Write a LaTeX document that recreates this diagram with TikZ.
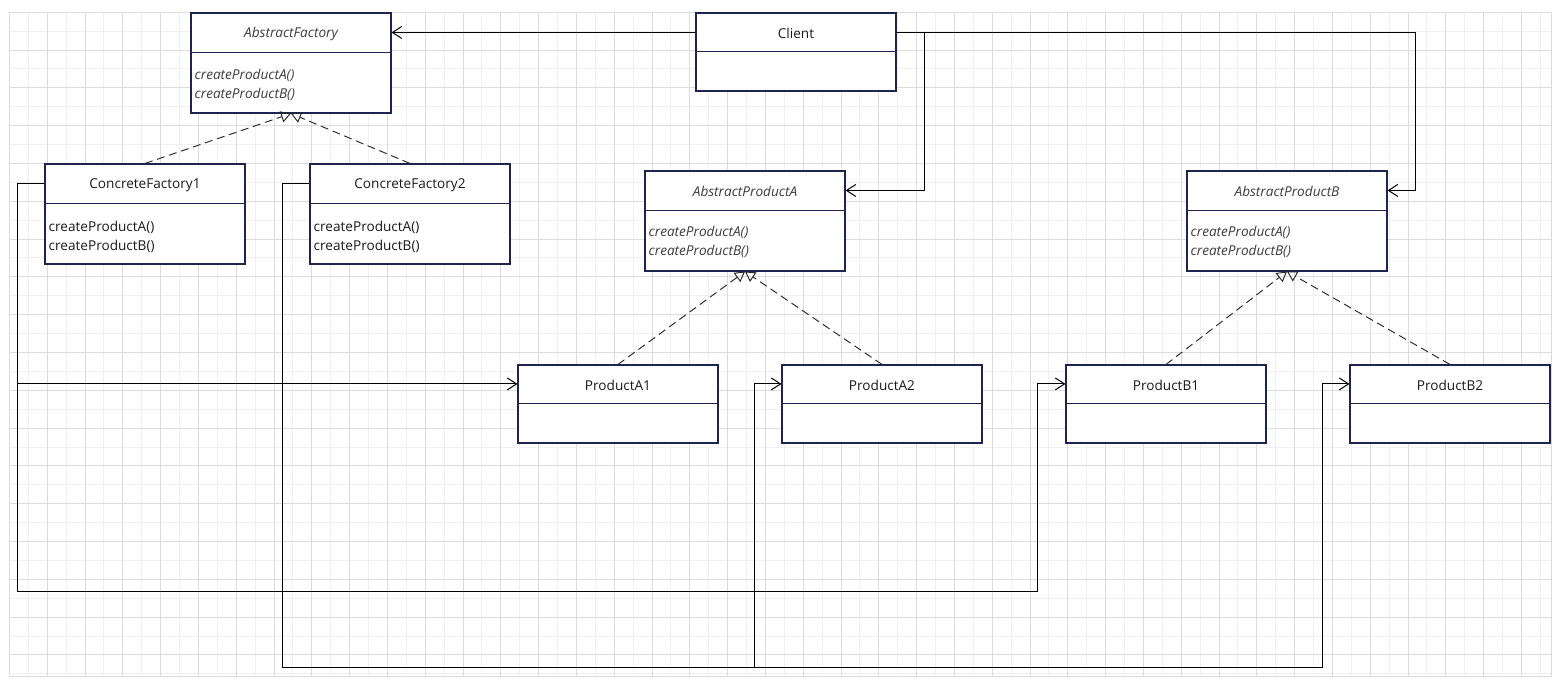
\documentclass[tikz,border=0pt]{standalone}
\usepackage{fontspec}
\setmainfont{Open Sans}
\usetikzlibrary{arrows.meta}
\definecolor{boxc}{HTML}{1F2350}
\definecolor{gmin}{HTML}{F0F0F0}
\definecolor{gmaj}{HTML}{DCDCDC}
\definecolor{txt}{HTML}{1A1A1A}
\newcommand\fsz{\fontsize{10.2}{12}\selectfont}
\tikzset{
  cls/.style={draw=boxc, line width=0.8pt, fill=white, minimum width=150pt, inner sep=0pt},
  divline/.style={draw=boxc, line width=0.8pt},
  ttl/.style={inner sep=0pt, text=txt, font=\fsz},
  ittl/.style={inner sep=0pt, text=txt!85, font=\fsz\itshape},
  opr/.style={inner sep=0pt, anchor=west, text=txt, font=\fsz},
  iopr/.style={inner sep=0pt, anchor=west, text=txt!85, font=\fsz\itshape},
  assoc/.style={draw=black, line width=0.75pt, -{Straight Barb[length=7pt,width=9pt]}},
  realize/.style={draw=black!85, line width=0.7pt, dash pattern=on 6pt off 3.5pt, -{Triangle[open, length=7.5pt, width=8.5pt, line width=0.7pt]}},
}
\begin{document}
\begin{tikzpicture}[x=0.75pt,y=-0.75pt]
\fill[white] (0,0) rectangle (1561,684);
% grid
\foreach \i in {1,3,...,81}{\draw[gmin, line width=0.75pt] ({9.4+18.9*\i},12.3) -- ({9.4+18.9*\i},676);}
\foreach \j in {1,3,...,35}{\draw[gmin, line width=0.75pt] (9.4,{12.3+18.9*\j}) -- (1551.3,{12.3+18.9*\j});}
\foreach \i in {0,2,...,80}{\draw[gmaj, line width=0.75pt] ({9.4+18.9*\i},12.3) -- ({9.4+18.9*\i},676);}
\foreach \j in {0,2,...,34}{\draw[gmaj, line width=0.75pt] (9.4,{12.3+18.9*\j}) -- (1551.3,{12.3+18.9*\j});}
\draw[gmaj, line width=0.75pt] (9.4,12.3) rectangle (1551.3,676);

% ---------- classes with operations ----------
% AbstractFactory
\node[cls, minimum height=75pt] (af) at (291,63) {};
\draw[divline] ([yshift=-30pt]af.north west) -- ([yshift=-30pt]af.north east);
\node[ittl] (aft) at ([yshift=-16pt]af.north) {AbstractFactory};
\node[iopr] (afa) at ([xshift=3pt,yshift=-47.25pt]af.north west) {createProductA()};
\node[iopr] (afb) at ([xshift=3pt,yshift=-61.5pt]af.north west) {createProductB()};

% ConcreteFactory1
\node[cls, minimum height=75pt] (cf1) at (145,214) {};
\draw[divline] ([yshift=-30pt]cf1.north west) -- ([yshift=-30pt]cf1.north east);
\node[ttl] (cf1t) at ([yshift=-16pt]cf1.north) {ConcreteFactory1};
\node[opr] (cf1a) at ([xshift=3pt,yshift=-48pt]cf1.north west) {createProductA()};
\node[opr] (cf1b) at ([xshift=3pt,yshift=-62.25pt]cf1.north west) {createProductB()};

% ConcreteFactory2
\node[cls, minimum height=75pt] (cf2) at (410,214) {};
\draw[divline] ([yshift=-30pt]cf2.north west) -- ([yshift=-30pt]cf2.north east);
\node[ttl] (cf2t) at ([yshift=-16pt]cf2.north) {ConcreteFactory2};
\node[opr] (cf2a) at ([xshift=3pt,yshift=-48pt]cf2.north west) {createProductA()};
\node[opr] (cf2b) at ([xshift=3pt,yshift=-62.25pt]cf2.north west) {createProductB()};

% AbstractProductA
\node[cls, minimum height=75pt] (apa) at (745,221) {};
\draw[divline] ([yshift=-30pt]apa.north west) -- ([yshift=-30pt]apa.north east);
\node[ittl] (apat) at ([yshift=-16pt]apa.north) {AbstractProductA};
\node[iopr] (apaa) at ([xshift=3pt,yshift=-46.5pt]apa.north west) {createProductA()};
\node[iopr] (apab) at ([xshift=3pt,yshift=-60.75pt]apa.north west) {createProductB()};

% AbstractProductB
\node[cls, minimum height=75pt] (apb) at (1287,221) {};
\draw[divline] ([yshift=-30pt]apb.north west) -- ([yshift=-30pt]apb.north east);
\node[ittl] (apbt) at ([yshift=-16pt]apb.north) {AbstractProductB};
\node[iopr] (apba) at ([xshift=3pt,yshift=-46.5pt]apb.north west) {createProductA()};
\node[iopr] (apbb) at ([xshift=3pt,yshift=-60.75pt]apb.north west) {createProductB()};

% ---------- simple classes ----------
\node[cls, minimum height=58.5pt] (cl) at (796,52) {};
\draw[divline] ([yshift=-29.25pt]cl.north west) -- ([yshift=-29.25pt]cl.north east);
\node[ttl] (clt) at ([yshift=-15.5pt]cl.north) {Client};

\node[cls, minimum height=58.5pt] (pa1) at (618,404) {};
\draw[divline] ([yshift=-29.25pt]pa1.north west) -- ([yshift=-29.25pt]pa1.north east);
\node[ttl] (pa1t) at ([yshift=-15.5pt]pa1.north) {ProductA1};

\node[cls, minimum height=58.5pt] (pa2) at (882,404) {};
\draw[divline] ([yshift=-29.25pt]pa2.north west) -- ([yshift=-29.25pt]pa2.north east);
\node[ttl] (pa2t) at ([yshift=-15.5pt]pa2.north) {ProductA2};

\node[cls, minimum height=58.5pt] (pb1) at (1166,404) {};
\draw[divline] ([yshift=-29.25pt]pb1.north west) -- ([yshift=-29.25pt]pb1.north east);
\node[ttl] (pb1t) at ([yshift=-15.5pt]pb1.north) {ProductB1};

\node[cls, minimum height=58.5pt] (pb2) at (1450,404) {};
\draw[divline] ([yshift=-29.25pt]pb2.north west) -- ([yshift=-29.25pt]pb2.north east);
\node[ttl] (pb2t) at ([yshift=-15.5pt]pb2.north) {ProductB2};

% ---------- attachment points ----------
\coordinate (clL) at ([yshift=-15pt]cl.north west);
\coordinate (clR) at ([yshift=-15pt]cl.north east);
\coordinate (afR) at ([yshift=-15pt]af.north east);
\coordinate (apaR) at ([yshift=-15pt]apa.north east);
\coordinate (apbR) at ([yshift=-15pt]apb.north east);
\coordinate (cf1L) at ([yshift=-15pt]cf1.north west);
\coordinate (cf2L) at ([yshift=-15pt]cf2.north west);
\coordinate (pa1L) at ([yshift=-14.6pt]pa1.north west);
\coordinate (pa2L) at ([yshift=-14.6pt]pa2.north west);
\coordinate (pb1L) at ([yshift=-14.6pt]pb1.north west);
\coordinate (pb2L) at ([yshift=-14.6pt]pb2.north west);
% bend points
\coordinate (kA) at (924,33);
\coordinate (kB) at (1415,33);
\coordinate (k1) at (17,591);
\coordinate (k2) at (1037,591);
\coordinate (k3) at (282,667);
\coordinate (k4) at (754,667);
\coordinate (k5) at (1322,667);

% ---------- associations ----------
\draw[assoc] (clL) -- (afR);
\draw[assoc] (clR) -- (clR -| kA) |- (apaR);
\draw[assoc] (clR) -- (clR -| kB) |- (apbR);
\draw[assoc] (cf1L) -| (k1) -- (k2) |- (pb1L);
\draw[assoc] (cf1L -| k1) |- (pa1L);
\draw[assoc] (cf2L) -| (k3) -- (k5) |- (pb2L);
\draw[assoc] (k4) |- (pa2L);

% ---------- realizations ----------
\draw[realize] (cf1.north) -- (af.south);
\draw[realize] (cf2.north) -- (af.south);
\draw[realize] (pa1.north) -- (apa.south);
\draw[realize] (pa2.north) -- (apa.south);
\draw[realize] (pb1.north) -- (apb.south);
\draw[realize] (pb2.north) -- (apb.south);
\end{tikzpicture}
\end{document}
